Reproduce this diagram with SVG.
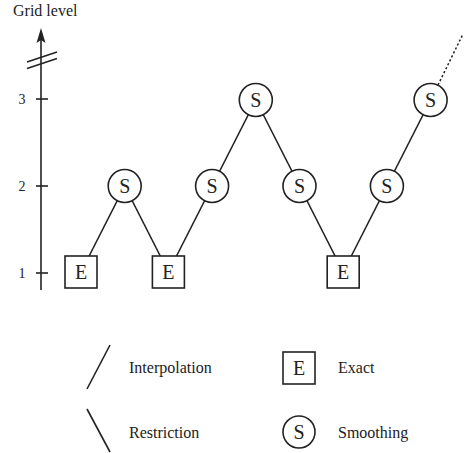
<svg xmlns="http://www.w3.org/2000/svg" width="466" height="453" viewBox="0 0 466 453">
<style>
text{font-family:"Liberation Serif","Times New Roman",serif;fill:#222}
.lbl{font-size:16px}
.ax{font-size:14px;text-anchor:middle}
.nt{font-size:20px;text-anchor:middle}
.ln{stroke:#222;stroke-width:1.6;fill:none}
.shape{fill:#fff;stroke:#222;stroke-width:1.6}
</style>
<rect width="466" height="453" fill="#fff"/>
<g id="axis">
<line class="ln" x1="41" y1="36" x2="41" y2="290" stroke-width="1.8"/>
<path d="M41,28 L45.5,43 L41,40 L36.5,43 Z" fill="#222"/>
<line class="ln" x1="27" y1="62" x2="57" y2="52" stroke-width="1.2"/>
<line class="ln" x1="27" y1="68.5" x2="57" y2="58.5" stroke-width="1.2"/>
<line class="ln" x1="36" y1="99" x2="48" y2="99"/>
<line class="ln" x1="36" y1="186" x2="48" y2="186"/>
<line class="ln" x1="36" y1="273" x2="48" y2="273"/>
<text class="ax" x="22" y="104">3</text>
<text class="ax" x="22" y="191">2</text>
<text class="ax" x="22" y="278">1</text>
<text class="lbl" x="13" y="16" font-size="15.5">Grid level</text>
</g>
<g id="connectors" class="ln">
<line x1="81" y1="272" x2="124.7" y2="186"/>
<line x1="124.7" y1="186" x2="168.4" y2="272"/>
<line x1="168.4" y1="272" x2="212.1" y2="186"/>
<line x1="212.1" y1="186" x2="255.8" y2="100"/>
<line x1="255.8" y1="100" x2="299.5" y2="186"/>
<line x1="299.5" y1="186" x2="343.2" y2="272"/>
<line x1="343.2" y1="272" x2="386.9" y2="186"/>
<line x1="386.9" y1="186" x2="430.6" y2="100"/>
<line x1="438" y1="85" x2="463" y2="34" stroke-dasharray="2.2 2.2" stroke-width="1.5"/>
</g>
<g id="e1"><rect class="shape" x="65" y="256" width="32" height="32"/><text class="nt" x="81" y="279">E</text></g>
<g id="s1"><circle class="shape" cx="124.7" cy="186" r="16.5"/><text class="nt" x="124.7" y="193">S</text></g>
<g id="e2"><rect class="shape" x="152.4" y="256" width="32" height="32"/><text class="nt" x="168.4" y="279">E</text></g>
<g id="s2"><circle class="shape" cx="212.1" cy="186" r="16.5"/><text class="nt" x="212.1" y="193">S</text></g>
<g id="s3"><circle class="shape" cx="255.8" cy="100" r="16.5"/><text class="nt" x="255.8" y="107">S</text></g>
<g id="s4"><circle class="shape" cx="299.5" cy="186" r="16.5"/><text class="nt" x="299.5" y="193">S</text></g>
<g id="e3"><rect class="shape" x="327.2" y="256" width="32" height="32"/><text class="nt" x="343.2" y="279">E</text></g>
<g id="s5"><circle class="shape" cx="386.9" cy="186" r="16.5"/><text class="nt" x="386.9" y="193">S</text></g>
<g id="s6"><circle class="shape" cx="430.6" cy="100" r="16.5"/><text class="nt" x="430.6" y="107">S</text></g>
<g id="legend">
<line class="ln" x1="87" y1="389" x2="110" y2="345"/>
<text class="lbl" x="129" y="373">Interpolation</text>
<line class="ln" x1="87" y1="409" x2="110" y2="452"/>
<text class="lbl" x="129" y="438">Restriction</text>
<rect class="shape" x="283" y="352" width="32" height="32"/><text class="nt" x="299" y="375">E</text>
<text class="lbl" x="338" y="373">Exact</text>
<circle class="shape" cx="299" cy="432" r="16"/><text class="nt" x="299" y="439">S</text>
<text class="lbl" x="338" y="438">Smoothing</text>
</g>
</svg>
